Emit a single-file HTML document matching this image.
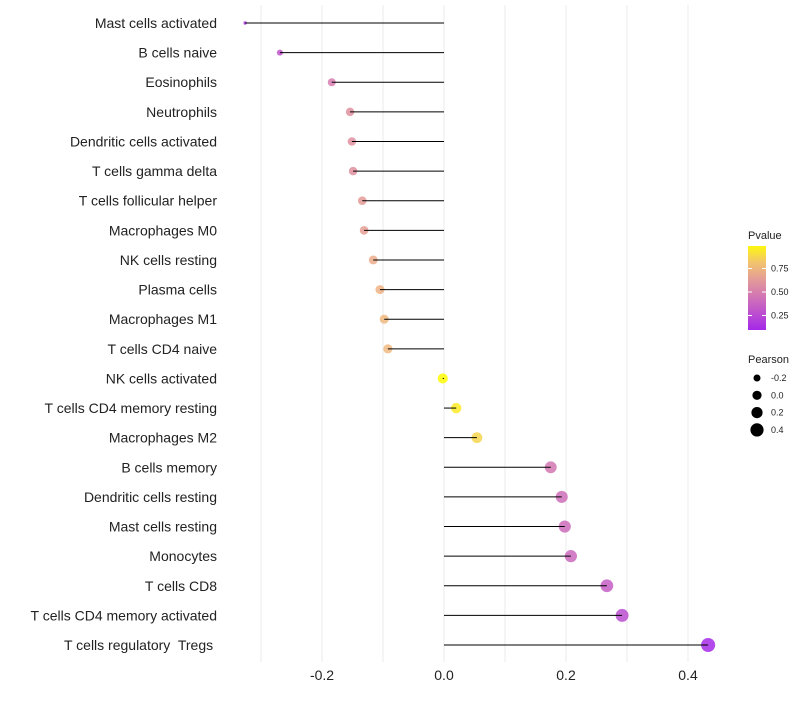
<!DOCTYPE html>
<html><head><meta charset="utf-8"><style>
body{margin:0;background:#fff;font-family:"Liberation Sans",sans-serif}
text{white-space:pre}
</style></head><body>
<svg id="chart" width="800" height="700" xmlns="http://www.w3.org/2000/svg"></svg>
<script>
const categories=["Mast cells activated","B cells naive","Eosinophils","Neutrophils","Dendritic cells activated","T cells gamma delta","T cells follicular helper","Macrophages M0","NK cells resting","Plasma cells","Macrophages M1","T cells CD4 naive","NK cells activated","T cells CD4 memory resting","Macrophages M2","B cells memory","Dendritic cells resting","Mast cells resting","Monocytes","T cells CD8","T cells CD4 memory activated","T cells regulatory  Tregs "];
const pearson=[-0.326,-0.269,-0.184,-0.154,-0.151,-0.149,-0.134,-0.131,-0.116,-0.105,-0.098,-0.092,-0.002,0.02,0.054,0.175,0.193,0.198,0.208,0.267,0.292,0.433];
const pvalues=[0.1,0.25,0.45,0.55,0.55,0.55,0.6,0.62,0.68,0.72,0.75,0.75,0.99,0.93,0.85,0.42,0.38,0.37,0.35,0.3,0.22,0.05];
const xTicks=[-0.2,0,0.2,0.4];
const xTickLabels=["-0.2","0.0","0.2","0.4"];
const pTicks=[0.25,0.5,0.75];
const sizeLegend=[-0.2,0,0.2,0.4];

const svg=document.getElementById('chart');
const NS="http://www.w3.org/2000/svg";
function mk(t,a,p){const e=document.createElementNS(NS,t);for(const k in a)e.setAttribute(k,a[k]);(p||svg).appendChild(e);return e;}
const x=v=>444+v*610;
const y=i=>23+i*29.62;
const r=v=>v<-0.25?Math.max(1.7,1.7+(v+0.326)*23):Math.sqrt(26+54*v);
const stops=[[0,[160,32,240]],[0.45,[215,125,175]],[0.75,[240,185,128]],[1,[255,255,0]]];
function col(p){for(let k=1;k<stops.length;k++){if(p<=stops[k][0]||k==stops.length-1){const [p0,a]=stops[k-1],[p1,b]=stops[k];const t=Math.min(1,Math.max(0,(p-p0)/(p1-p0)));return `rgb(${a.map((c,i)=>Math.round(c+(b[i]-c)*t))})`;}}}

for(let v=-0.3;v<=0.45;v+=0.1){const g=mk('line',{x1:x(v),x2:x(v),y1:5,y2:662,stroke:'#ebebeb','stroke-width':1});

}
xTicks.forEach((v,i)=>{const t=mk('text',{x:x(v),y:680,'text-anchor':'middle','font-size':14,fill:'#222'});t.textContent=xTickLabels[i];

});
categories.forEach((c,i)=>{
const t=mk('text',{x:217,y:y(i)+5,'text-anchor':'end','font-size':14,fill:'#222'});t.textContent=c;


const pt=mk('circle',{cx:x(pearson[i]),cy:y(i),r:r(pearson[i]),fill:col(pvalues[i]),'fill-opacity':0.85});


const l=mk('line',{x1:x(0),x2:x(pearson[i]),y1:y(i),y2:y(i),stroke:'#000','stroke-width':1});


});
const defs=mk('defs',{});const lg=mk('linearGradient',{id:'pg',x1:0,y1:1,x2:0,y2:0},defs);
[0,0.2,0.4,0.6,0.8,1].forEach(s=>mk('stop',{offset:s,'stop-color':col(0.04+s*0.93)},lg));
const tt=mk('text',{x:748,y:239,'font-size':11,fill:'#222'});tt.textContent='Pvalue';


const bar=mk('rect',{x:748,y:246,width:18,height:84,fill:'url(#pg)'});


pTicks.forEach(p=>{const yy=339-p*94;mk('line',{x1:748,x2:752,y1:yy,y2:yy,stroke:'#fff'});mk('line',{x1:762,x2:766,y1:yy,y2:yy,stroke:'#fff'});
const t=mk('text',{x:771,y:yy+3,'font-size':9,fill:'#222'});t.textContent=p.toFixed(2);

});
const st=mk('text',{x:748,y:363,'font-size':11,fill:'#222'});st.textContent='Pearson';


const legR=[3.5,4.6,5.6,6.6];
sizeLegend.forEach((v,i)=>{const yy=378+i*17.3;const c=mk('circle',{cx:757,cy:yy,r:legR[i],fill:'#000'});


const t=mk('text',{x:771,y:yy+3,'font-size':9,fill:'#222'});t.textContent=v.toFixed(1);

});
</script>
</body></html>
